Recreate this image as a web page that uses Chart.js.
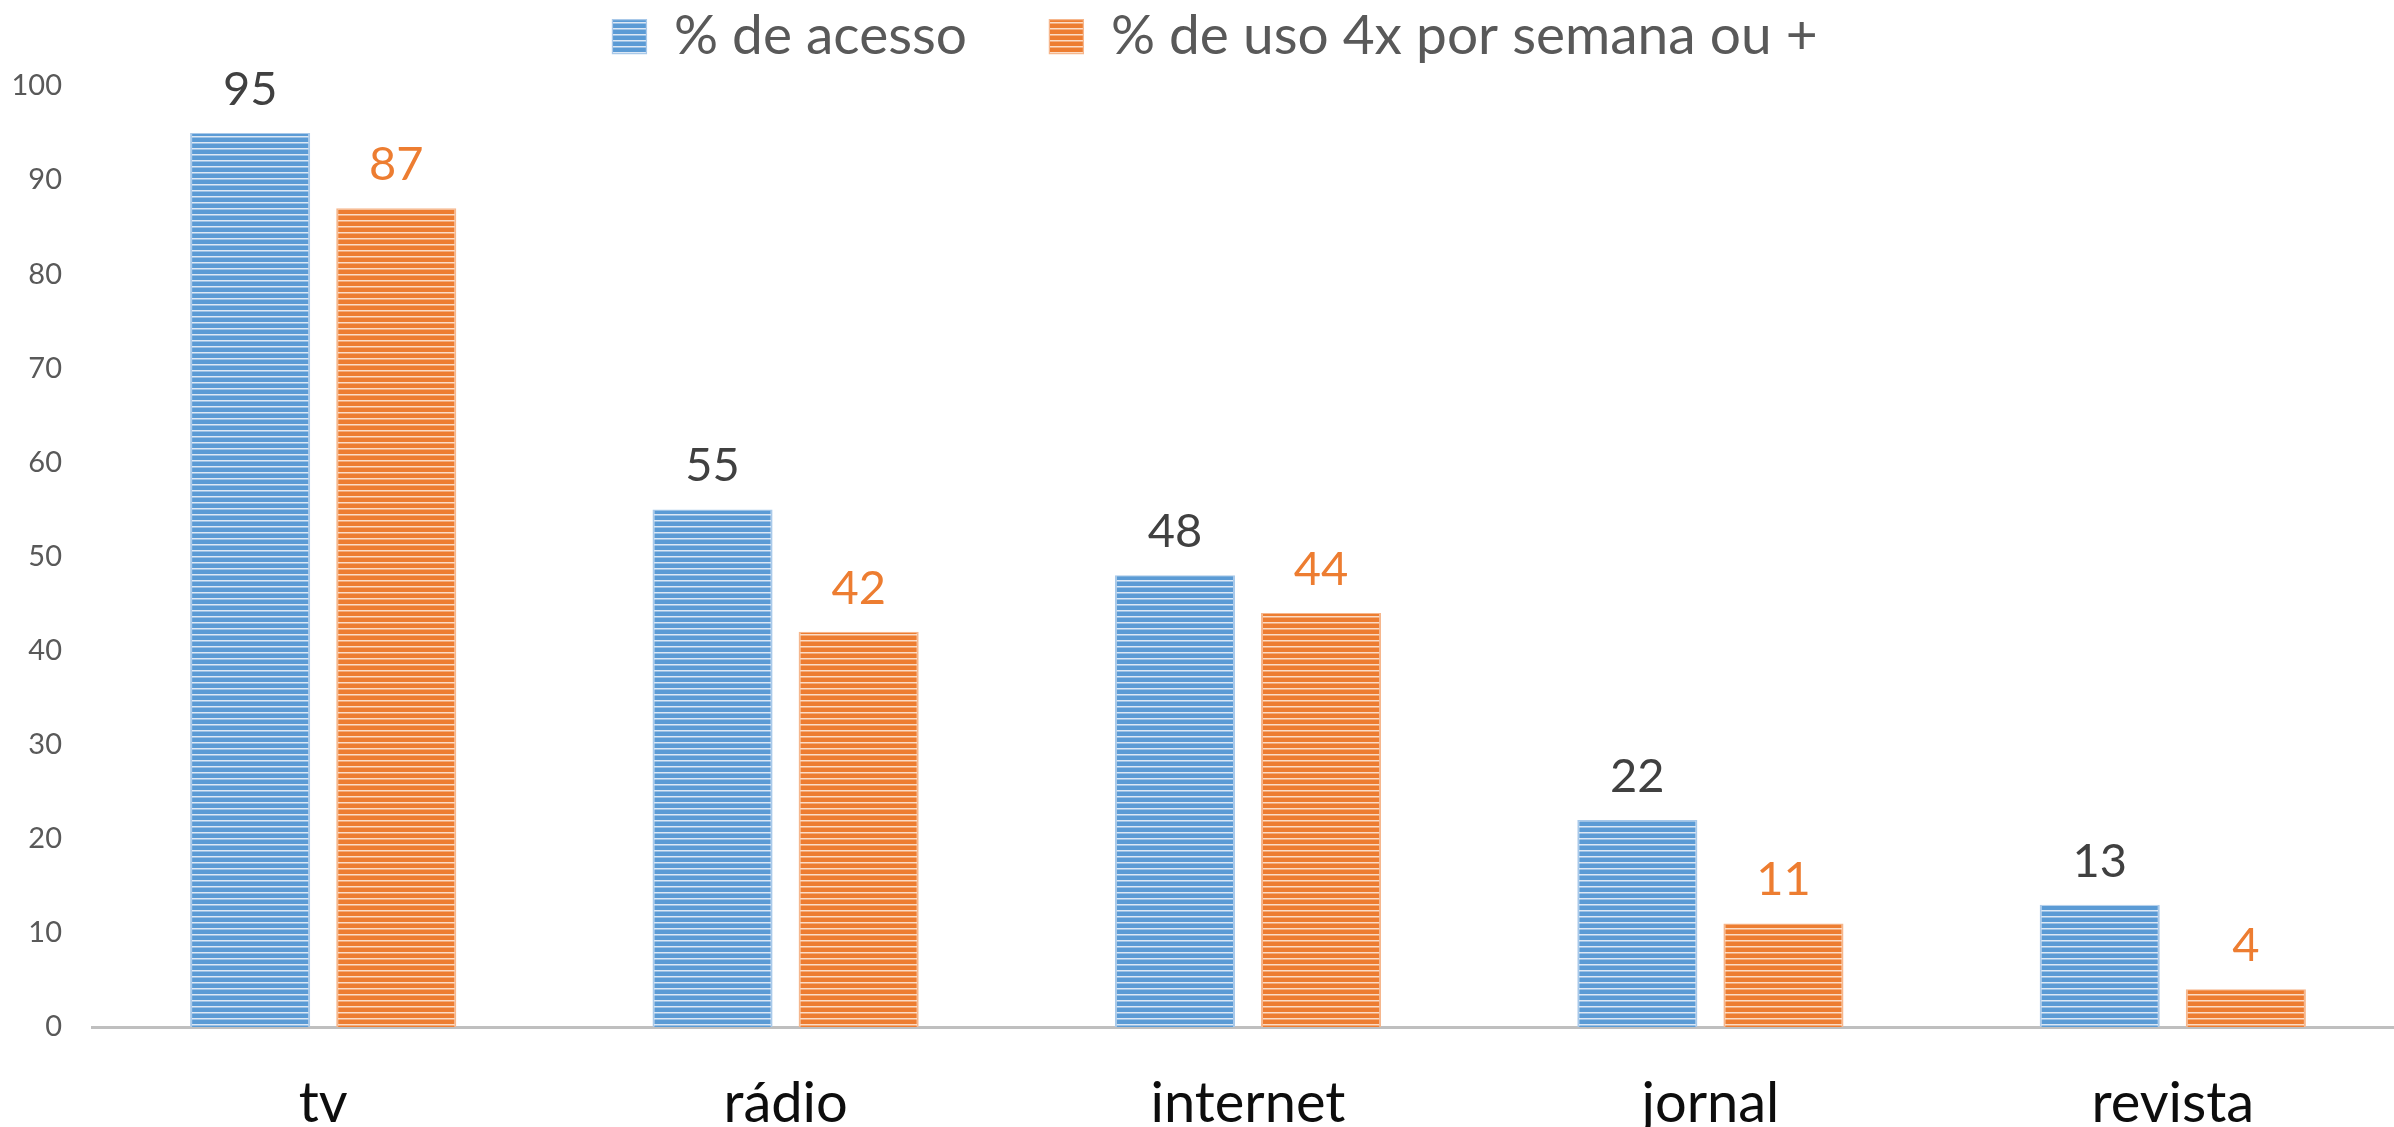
<!DOCTYPE html>
<html>
<head>
<meta charset="utf-8">
<script src="https://cdn.jsdelivr.net/npm/chart.js"></script>
<style>
  html, body { margin: 0; padding: 0; background: #fff; overflow: hidden; }
  .wrap { width: 2410px; height: 1127px; position: relative; }
</style>
</head>
<body>
<div class="wrap"><canvas id="mediaChart"></canvas></div>
<script>
const categories = ["tv", "rádio", "internet", "jornal", "revista"];
const acesso = [95, 55, 48, 22, 13];
const uso4x = [87, 42, 44, 11, 4];
const seriesNames = ["% de acesso", "% de uso 4x por semana ou +"];
const yTicks = [0, 10, 20, 30, 40, 50, 60, 70, 80, 90, 100];

const FONT = "Lato, 'Open Sans', sans-serif";

// striped fill like the original (horizontal lines)
function stripes(base, light) {
  const c = document.createElement("canvas");
  c.width = 8;
  c.height = 6;
  const g = c.getContext("2d");
  g.fillStyle = base;
  g.fillRect(0, 0, 8, 6);
  g.fillStyle = light;
  g.fillRect(0, 4, 8, 1.5);
  return g.createPattern(c, "repeat");
}

const bluePattern = stripes("#5B9BD5", "#dce8f5");
const orangePattern = stripes("#ED7D31", "#fbdcc6");

// value labels above each bar
const barValues = {
  id: "barValues",
  afterDatasetsDraw(chart) {
    const ctx = chart.ctx;
    const colors = ["#404040", "#ED7D31"];
    ctx.save();
    ctx.font = "47px " + FONT;
    ctx.textAlign = "center";
    ctx.textBaseline = "alphabetic";
    chart.data.datasets.forEach((ds, i) => {
      const meta = chart.getDatasetMeta(i);
      ctx.fillStyle = colors[i];
      meta.data.forEach((bar, j) => {
        ctx.fillText(ds.data[j], bar.x, bar.y - 28);
      });
    });
    ctx.restore();
  }
};

// nudge the legend: a bit up and to the right, like the original
const legendNudge = {
  id: "legendNudge",
  afterLayout(chart) {
    const lg = chart.legend;
    lg.top -= 12;
    lg.bottom -= 12;
    lg.left += 13;
    lg.right += 13;
  }
};

new Chart(document.getElementById("mediaChart"), {
  type: "bar",
  data: {
    labels: categories,
    datasets: [
      {
        label: seriesNames[0],
        data: acesso,
        backgroundColor: bluePattern,
        borderColor: "#a9c9e9",
        borderWidth: { left: 2, right: 2, top: 1, bottom: 0 },
        borderSkipped: "bottom"
      },
      {
        label: seriesNames[1],
        data: uso4x,
        backgroundColor: orangePattern,
        borderColor: "#f6b78d",
        borderWidth: { left: 2, right: 2, top: 1, bottom: 0 },
        borderSkipped: "bottom"
      }
    ]
  },
  options: {
    responsive: true,
    maintainAspectRatio: false,
    animation: false,
    categoryPercentage: 0.632,
    barPercentage: 0.822,
    layout: { padding: { top: 9, right: 6, left: 0, bottom: 0 } },
    plugins: {
      tooltip: { enabled: false },
      legend: {
        position: "top",
        labels: {
          boxWidth: 34,
          boxHeight: 34,
          padding: 12,
          color: "#595959",
          font: { family: FONT, size: 55 },
          generateLabels(chart) {
            const items = Chart.defaults.plugins.legend.labels.generateLabels(chart);
            items[0].text = items[0].text + "\u00a0\u00a0\u00a0\u00a0\u00a0";
            return items;
          }
        }
      }
    },
    scales: {
      x: {
        grid: { display: false, drawTicks: false },
        border: { display: true, color: "#BFBFBF", width: 3 },
        ticks: {
          color: "#0d0d0d",
          font: { family: FONT, size: 56 },
          padding: 43,
          maxRotation: 0
        },
        afterFit(scale) { scale.height = 100; }
      },
      y: {
        min: 0,
        max: 100,
        grid: { display: false, drawTicks: false },
        border: { display: false },
        afterBuildTicks(scale) { scale.ticks = yTicks.map(v => ({ value: v })); },
        ticks: {
          color: "#595959",
          font: { family: FONT, size: 29 },
          padding: 30
        },
        afterFit(scale) { scale.width = 92; }
      }
    }
  },
  plugins: [barValues, legendNudge]
});
</script>
</body>
</html>
